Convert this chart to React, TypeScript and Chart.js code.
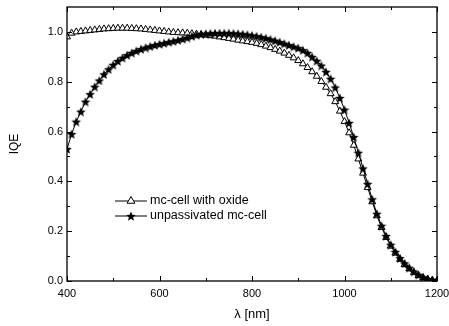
import React, { useEffect, useRef } from "react";
import { Chart, registerables } from "chart.js";

Chart.register(...registerables);

const wavelengths: number[] = [];
for (let w = 400; w <= 1200; w += 10) wavelengths.push(w);

const oxideIQE = [
  0.98, 0.995, 1.0, 1.002, 1.004, 1.006, 1.008, 1.01, 1.012, 1.013,
  1.014, 1.015, 1.015, 1.015, 1.014, 1.013, 1.012, 1.01, 1.008, 1.006,
  1.004, 1.002, 1.0, 0.998, 0.997, 0.996, 0.995, 0.993, 0.991, 0.989,
  0.987, 0.985, 0.983, 0.98, 0.977, 0.974, 0.971, 0.967, 0.964, 0.961,
  0.958, 0.954, 0.949, 0.943, 0.937, 0.93, 0.923, 0.915, 0.906, 0.896,
  0.885, 0.872, 0.857, 0.84, 0.822, 0.801, 0.778, 0.752, 0.72, 0.682,
  0.64, 0.595, 0.545, 0.49, 0.433, 0.375, 0.318, 0.262, 0.215, 0.175,
  0.14, 0.112, 0.087, 0.066, 0.049, 0.034, 0.022, 0.013, 0.007, 0.003,
  0.001,
];

const unpassivatedIQE = [
  0.53, 0.59, 0.64, 0.68, 0.72, 0.75, 0.78, 0.805, 0.83, 0.85,
  0.868, 0.883, 0.896, 0.907, 0.916, 0.924, 0.931, 0.937, 0.942, 0.947,
  0.951, 0.955, 0.959, 0.963, 0.967, 0.972, 0.977, 0.983, 0.988, 0.991,
  0.993, 0.994, 0.995, 0.995, 0.995, 0.995, 0.994, 0.993, 0.991, 0.989,
  0.986, 0.983, 0.979, 0.975, 0.97, 0.965, 0.959, 0.953, 0.947, 0.941,
  0.935, 0.927, 0.916, 0.9, 0.884, 0.865, 0.84, 0.812, 0.777, 0.735,
  0.688, 0.635, 0.578, 0.515, 0.452, 0.39, 0.328, 0.27, 0.222, 0.181,
  0.146, 0.117, 0.092, 0.071, 0.053, 0.038, 0.025, 0.015, 0.008, 0.004,
  0.002,
];

const seriesNames = ["mc-cell with oxide", "unpassivated mc-cell"];
const xMajorTicks = [400, 600, 800, 1000, 1200];
const xMinorTicks = [500, 700, 900, 1100];
const yMajorTicks = [0, 0.2, 0.4, 0.6, 0.8, 1.0];
const yMinorTicks = [0.1, 0.3, 0.5, 0.7, 0.9];
const xTitle = "λ [nm]";
const yTitle = "IQE";

const FONT = "'Liberation Sans', Arial, sans-serif";

function makeStar(size: number): HTMLCanvasElement {
  const c = document.createElement("canvas");
  c.width = size;
  c.height = size;
  const ctx = c.getContext("2d")!;
  const cx = size / 2;
  const cy = size / 2 + 0.6;
  const R = size / 2;
  const r = R * 0.45;
  ctx.beginPath();
  for (let i = 0; i < 10; i++) {
    const ang = -Math.PI / 2 + (i * Math.PI) / 5;
    const rad = i % 2 === 0 ? R : r;
    const x = cx + rad * Math.cos(ang);
    const y = cy + rad * Math.sin(ang);
    if (i === 0) ctx.moveTo(x, y);
    else ctx.lineTo(x, y);
  }
  ctx.closePath();
  ctx.fillStyle = "#000";
  ctx.fill();
  return c;
}

export default function App() {
  const ref = useRef<HTMLCanvasElement>(null);

  useEffect(() => {
    const canvas = ref.current!;
    const star = makeStar(10);

    const framePlugin = {
      id: "frame",
      afterDatasetsDraw(chart: any) {
        const { ctx, chartArea } = chart;
        const xs = chart.scales.x;
        const ys = chart.scales.y;
        const { left, right, top, bottom } = chartArea;
        ctx.save();
        ctx.strokeStyle = "#000";
        ctx.lineWidth = 1.3;
        ctx.strokeRect(left, top, right - left, bottom - top);
        ctx.lineWidth = 1;
        ctx.beginPath();
        const tickX = (vals: number[], len: number) => {
          vals.forEach((v) => {
            const px = Math.round(xs.getPixelForValue(v)) + 0.5;
            ctx.moveTo(px, bottom);
            ctx.lineTo(px, bottom - len);
            ctx.moveTo(px, top);
            ctx.lineTo(px, top + len);
          });
        };
        const tickY = (vals: number[], len: number) => {
          vals.forEach((v) => {
            const py = Math.round(ys.getPixelForValue(v)) + 0.5;
            ctx.moveTo(left, py);
            ctx.lineTo(left + len, py);
            ctx.moveTo(right, py);
            ctx.lineTo(right - len, py);
          });
        };
        tickX(xMajorTicks, 5);
        tickX(xMinorTicks, 3);
        tickY(yMajorTicks, 5);
        tickY(yMinorTicks, 3);
        ctx.stroke();

        // legend
        const lx0 = left + 48;
        const lx1 = left + 80;
        seriesNames.forEach((name, i) => {
          const y = top + 194 + i * 15;
          ctx.beginPath();
          ctx.lineWidth = 1;
          ctx.strokeStyle = "#000";
          ctx.moveTo(lx0, y);
          ctx.lineTo(lx1, y);
          ctx.stroke();
          const mx = (lx0 + lx1) / 2;
          if (i === 0) {
            ctx.beginPath();
            const rr = 4.5;
            ctx.moveTo(mx, y - rr);
            ctx.lineTo(mx + rr * 0.87, y + rr * 0.5);
            ctx.lineTo(mx - rr * 0.87, y + rr * 0.5);
            ctx.closePath();
            ctx.fillStyle = "#fff";
            ctx.fill();
            ctx.stroke();
          } else {
            ctx.drawImage(star, mx - star.width / 2, y - star.height / 2);
          }
          ctx.fillStyle = "#000";
          ctx.font = `12.5px ${FONT}`;
          ctx.textAlign = "left";
          ctx.textBaseline = "middle";
          ctx.fillText(name, lx1 + 3, y);
        });
        ctx.restore();
      },
    };

    const chart = new Chart(canvas, {
      type: "line",
      data: {
        datasets: [
          {
            label: seriesNames[0],
            data: wavelengths.map((w, i) => ({ x: w, y: oxideIQE[i] })),
            borderColor: "#000",
            borderWidth: 1,
            backgroundColor: "#fff",
            pointStyle: "triangle",
            pointRadius: 4,
            pointBorderWidth: 1,
            pointBorderColor: "#000",
            pointBackgroundColor: "#fff",
            tension: 0,
            order: 1,
          },
          {
            label: seriesNames[1],
            data: wavelengths.map((w, i) => ({ x: w, y: unpassivatedIQE[i] })),
            borderColor: "#000",
            borderWidth: 1,
            pointStyle: star as any,
            pointRadius: 4,
            tension: 0,
            order: 0,
          },
        ],
      },
      options: {
        responsive: false,
        animation: false,
        layout: { padding: 0 },
        plugins: {
          legend: { display: false },
          tooltip: { enabled: false },
        },
        scales: {
          x: {
            type: "linear",
            position: "bottom",
            min: 400,
            max: 1200,
            grid: { display: false, drawTicks: false },
            border: { display: false },
            afterBuildTicks: (scale: any) => {
              scale.ticks = xMajorTicks.map((v) => ({ value: v }));
            },
            afterFit: (scale: any) => {
              scale.height = 45;
              scale.paddingLeft = 0;
              scale.paddingRight = 0;
            },
            ticks: {
              color: "#000",
              padding: 6,
              maxRotation: 0,
              callback: (v: any) => String(v),
              font: { family: FONT, size: 11 },
            },
            title: {
              display: true,
              text: xTitle,
              color: "#000",
              padding: { top: 0, bottom: 4 },
              font: { family: FONT, size: 13 },
            },
          },
          xTop: {
            type: "linear",
            position: "top",
            min: 400,
            max: 1200,
            grid: { display: false, drawTicks: false },
            border: { display: false },
            ticks: { display: false },
            afterFit: (scale: any) => {
              scale.height = 7;
              scale.paddingLeft = 0;
              scale.paddingRight = 0;
            },
          },
          y: {
            type: "linear",
            position: "left",
            min: 0,
            max: 1.1,
            grid: { display: false, drawTicks: false },
            border: { display: false },
            afterBuildTicks: (scale: any) => {
              scale.ticks = yMajorTicks.map((v) => ({ value: v }));
            },
            afterFit: (scale: any) => {
              scale.width = 67;
              scale.paddingTop = 0;
              scale.paddingBottom = 0;
            },
            ticks: {
              color: "#000",
              padding: 4,
              callback: (v: any) => Number(v).toFixed(1),
              font: { family: FONT, size: 11 },
            },
            title: {
              display: true,
              text: yTitle,
              color: "#000",
              padding: { top: 7, bottom: 0 },
              font: { family: FONT, size: 12 },
            },
          },
          yRight: {
            type: "linear",
            position: "right",
            min: 0,
            max: 1.1,
            grid: { display: false, drawTicks: false },
            border: { display: false },
            ticks: { display: false },
            afterFit: (scale: any) => {
              scale.width = 12;
              scale.paddingTop = 0;
              scale.paddingBottom = 0;
            },
          },
        },
      },
      plugins: [framePlugin],
    } as any);

    return () => chart.destroy();
  }, []);

  return (
    <div style={{ position: "absolute", left: 0, top: 0, width: 449, height: 326, background: "#fff" }}>
      <canvas ref={ref} width={449} height={326} />
    </div>
  );
}
